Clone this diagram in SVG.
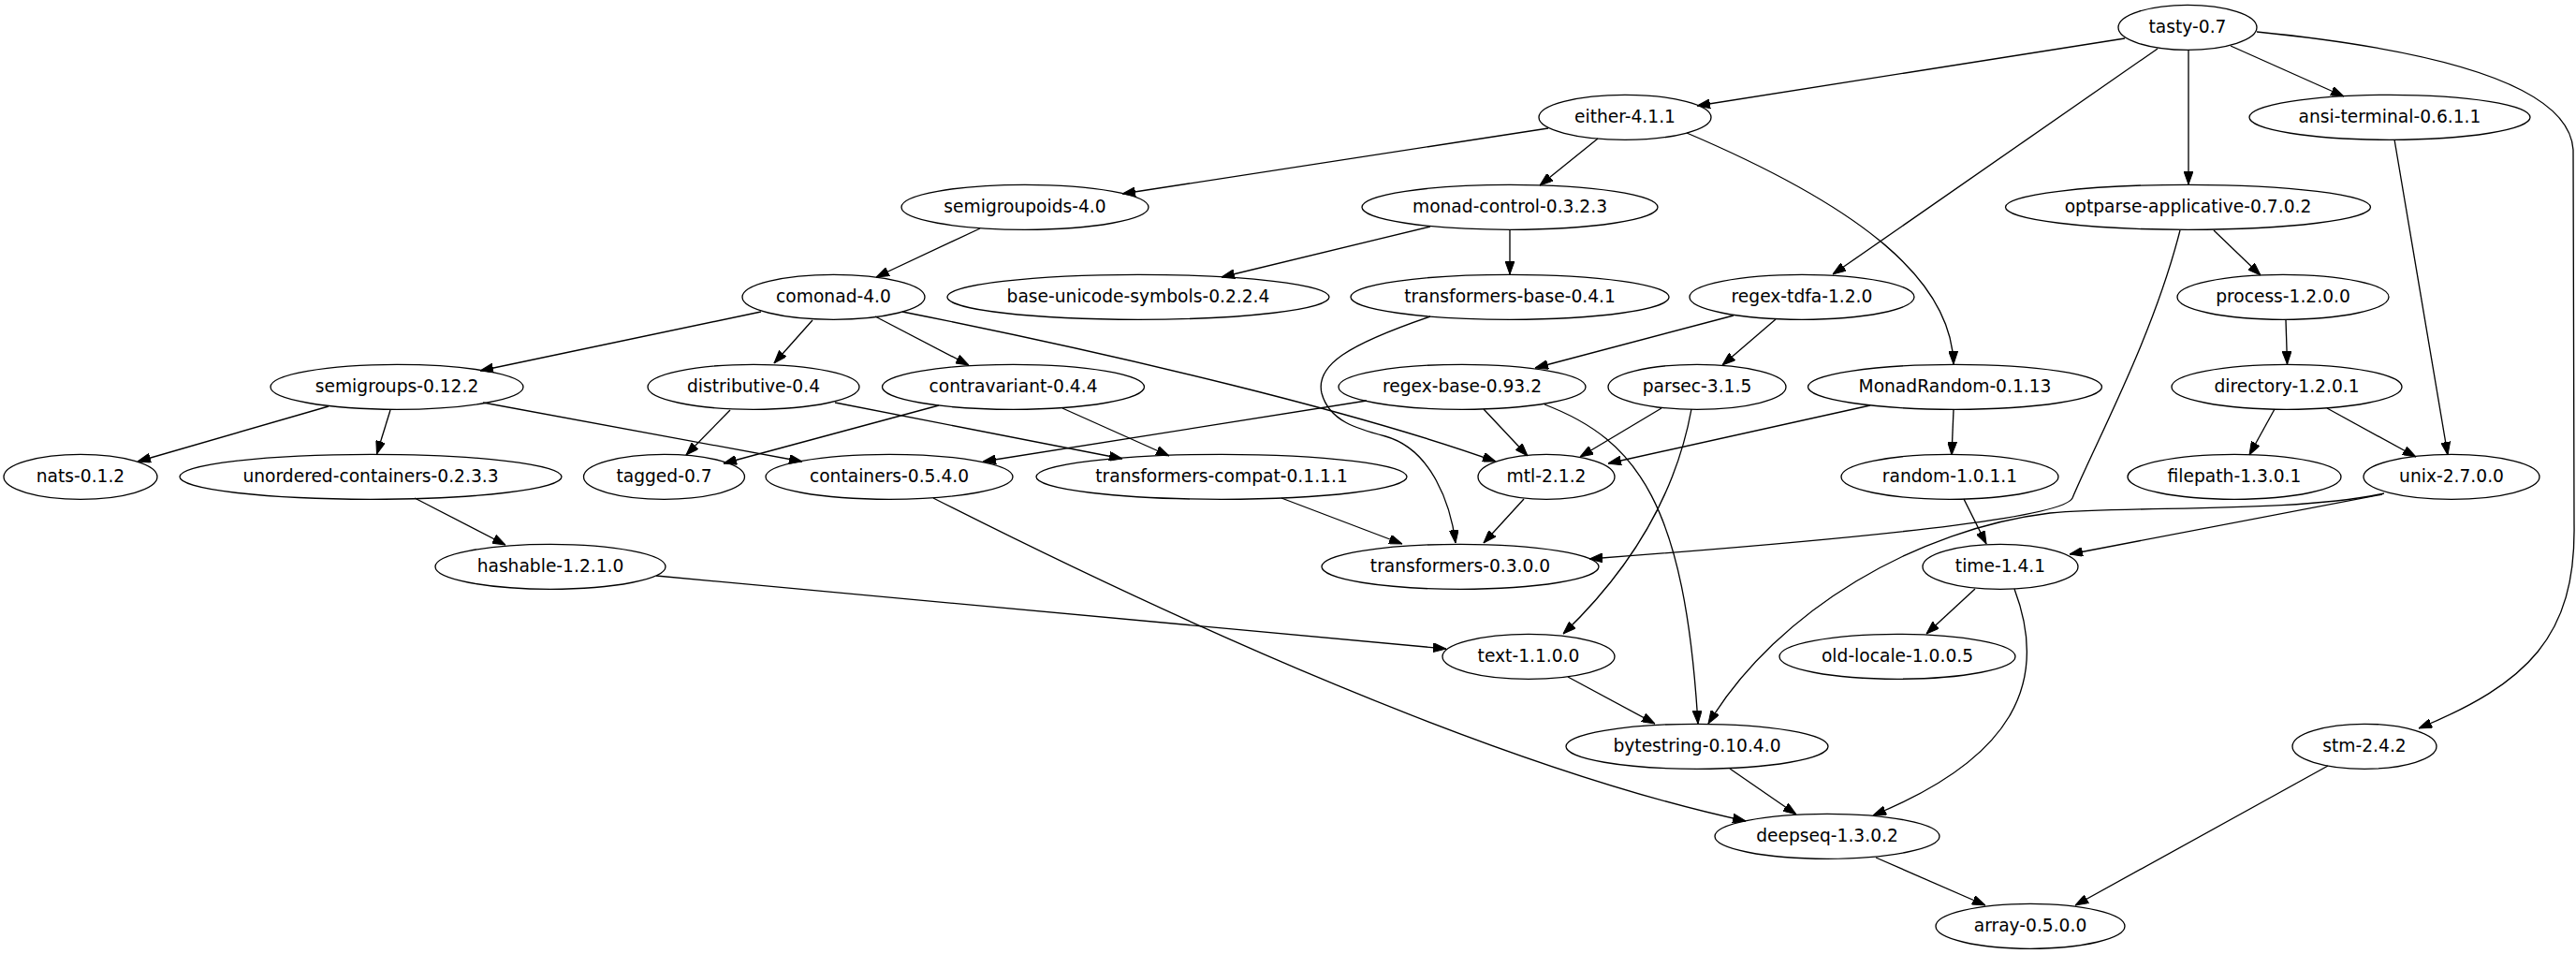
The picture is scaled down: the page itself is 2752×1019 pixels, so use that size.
<svg xmlns="http://www.w3.org/2000/svg" width="2752" height="1019" viewBox="0 0 2752 1019">
<style>
.n ellipse{fill:none;stroke:#000;stroke-width:1.33}
.n text{font-family:"DejaVu Sans","Liberation Sans",sans-serif;font-size:18.67px;text-anchor:middle;fill:#000}
#edges path{fill:none;stroke:#000;stroke-width:1.33;marker-end:url(#ah)}
</style>
<defs>
<marker id="ah" markerUnits="userSpaceOnUse" markerWidth="14" markerHeight="10" viewBox="0 0 14 10" refX="14" refY="5" orient="auto">
<path d="M0,0 L14,5 L0,10 z" fill="#000" stroke="#000" stroke-width="1"/>
</marker>
</defs>
<rect width="2752" height="1019" fill="#fff"/>
<g id="edges">
<path d="M2270,41 L1813,113"/>
<path d="M2305,52 L1958,293"/>
<path d="M2338,53 L2338,197"/>
<path d="M2383,49 L2504,103"/>
<path d="M2411,34 C2620,55 2745,95 2749,160 L2750,560 C2752,680 2700,730 2584,778"/>
<path d="M1654,137 L1199,207"/>
<path d="M1707,148 L1645,198"/>
<path d="M1802,142 C1990,222 2085,300 2087,389"/>
<path d="M2558,149 L2615,486"/>
<path d="M1047,244 L936,296"/>
<path d="M1528,242 L1305,296"/>
<path d="M1613,246 L1613,293"/>
<path d="M2365,246 L2415,294"/>
<path d="M2329,246 C2300,360 2240,470 2214,532 C2205,550 2060,570 1698,597"/>
<path d="M813,333 L513,396"/>
<path d="M868,342 L827,388"/>
<path d="M935,338 L1035,390"/>
<path d="M964,333 C1200,380 1450,440 1598,493"/>
<path d="M1528,338 C1440,368 1405,390 1412,420 C1420,450 1450,458 1480,466 C1530,480 1550,540 1555,580"/>
<path d="M1852,337 L1640,393"/>
<path d="M1897,341 L1840,390"/>
<path d="M2442,342 L2443.5,389"/>
<path d="M351,434 L147,493"/>
<path d="M417,438 L402.5,485"/>
<path d="M516,430 L857,493"/>
<path d="M780,438 L733,486"/>
<path d="M892,430 L1199,490"/>
<path d="M1003,433 L773,495"/>
<path d="M1135,436 L1249,487"/>
<path d="M1460,428 L1050,493"/>
<path d="M1585,437 L1632,487"/>
<path d="M1650,432 C1750,470 1800,540 1814,773"/>
<path d="M1775,436 L1688,488"/>
<path d="M1807,437 C1790,530 1740,610 1670,677"/>
<path d="M1998,433 L1718,495"/>
<path d="M2087,438 L2085,486"/>
<path d="M2430,437 L2403,486"/>
<path d="M2486,436 L2581,488"/>
<path d="M443,532 L540,582"/>
<path d="M997,532 C1250,660 1600,820 1865,877"/>
<path d="M1369,532 L1498,581"/>
<path d="M1628,533 L1585,580"/>
<path d="M2098,533 L2122,581"/>
<path d="M2545,528 L2211,592"/>
<path d="M2547,527 C2450,548 2280,540 2190,548 C2050,565 1900,650 1825,773"/>
<path d="M701,615 L1545,693"/>
<path d="M2110,629 L2058,677"/>
<path d="M2152,629 C2190,730 2150,810 2001,871"/>
<path d="M1675,723 L1768,773"/>
<path d="M1848,821 L1919,870"/>
<path d="M2487,818 L2217,967"/>
<path d="M2004,916 L2121,967"/>
</g>
<g id="tasty" class="n"><ellipse cx="2337" cy="29.3" rx="74" ry="24"/><text x="2337" y="35.3">tasty-0.7</text></g>
<g id="either" class="n"><ellipse cx="1736" cy="125.3" rx="92" ry="24"/><text x="1736" y="131.3">either-4.1.1</text></g>
<g id="ansi-terminal" class="n"><ellipse cx="2553" cy="125.3" rx="150" ry="24"/><text x="2553" y="131.3">ansi-terminal-0.6.1.1</text></g>
<g id="semigroupoids" class="n"><ellipse cx="1095" cy="221.3" rx="132" ry="24"/><text x="1095" y="227.3">semigroupoids-4.0</text></g>
<g id="monad-control" class="n"><ellipse cx="1613" cy="221.3" rx="158" ry="24"/><text x="1613" y="227.3">monad-control-0.3.2.3</text></g>
<g id="optparse-applicative" class="n"><ellipse cx="2337.5" cy="221.3" rx="195" ry="24"/><text x="2337.5" y="227.3">optparse-applicative-0.7.0.2</text></g>
<g id="comonad" class="n"><ellipse cx="890.5" cy="317.3" rx="97.5" ry="24"/><text x="890.5" y="323.3">comonad-4.0</text></g>
<g id="base-unicode-symbols" class="n"><ellipse cx="1216" cy="317.3" rx="204" ry="24"/><text x="1216" y="323.3">base-unicode-symbols-0.2.2.4</text></g>
<g id="transformers-base" class="n"><ellipse cx="1613" cy="317.3" rx="170" ry="24"/><text x="1613" y="323.3">transformers-base-0.4.1</text></g>
<g id="regex-tdfa" class="n"><ellipse cx="1925" cy="317.3" rx="120" ry="24"/><text x="1925" y="323.3">regex-tdfa-1.2.0</text></g>
<g id="process" class="n"><ellipse cx="2439" cy="317.3" rx="113" ry="24"/><text x="2439" y="323.3">process-1.2.0.0</text></g>
<g id="semigroups" class="n"><ellipse cx="424" cy="413.3" rx="135" ry="24"/><text x="424" y="419.3">semigroups-0.12.2</text></g>
<g id="distributive" class="n"><ellipse cx="805" cy="413.3" rx="113" ry="24"/><text x="805" y="419.3">distributive-0.4</text></g>
<g id="contravariant" class="n"><ellipse cx="1082.5" cy="413.3" rx="140" ry="24"/><text x="1082.5" y="419.3">contravariant-0.4.4</text></g>
<g id="regex-base" class="n"><ellipse cx="1562" cy="413.3" rx="132" ry="24"/><text x="1562" y="419.3">regex-base-0.93.2</text></g>
<g id="parsec" class="n"><ellipse cx="1813" cy="413.3" rx="95" ry="24"/><text x="1813" y="419.3">parsec-3.1.5</text></g>
<g id="MonadRandom" class="n"><ellipse cx="2088.5" cy="413.3" rx="157" ry="24"/><text x="2088.5" y="419.3">MonadRandom-0.1.13</text></g>
<g id="directory" class="n"><ellipse cx="2443" cy="413.3" rx="123" ry="24"/><text x="2443" y="419.3">directory-1.2.0.1</text></g>
<g id="nats" class="n"><ellipse cx="86" cy="509.3" rx="82" ry="24"/><text x="86" y="515.3">nats-0.1.2</text></g>
<g id="unordered-containers" class="n"><ellipse cx="396" cy="509.3" rx="204" ry="24"/><text x="396" y="515.3">unordered-containers-0.2.3.3</text></g>
<g id="tagged" class="n"><ellipse cx="709.5" cy="509.3" rx="86" ry="24"/><text x="709.5" y="515.3">tagged-0.7</text></g>
<g id="containers" class="n"><ellipse cx="950" cy="509.3" rx="132" ry="24"/><text x="950" y="515.3">containers-0.5.4.0</text></g>
<g id="transformers-compat" class="n"><ellipse cx="1305" cy="509.3" rx="198" ry="24"/><text x="1305" y="515.3">transformers-compat-0.1.1.1</text></g>
<g id="mtl" class="n"><ellipse cx="1652" cy="509.3" rx="73" ry="24"/><text x="1652" y="515.3">mtl-2.1.2</text></g>
<g id="random" class="n"><ellipse cx="2083" cy="509.3" rx="116" ry="24"/><text x="2083" y="515.3">random-1.0.1.1</text></g>
<g id="filepath" class="n"><ellipse cx="2387" cy="509.3" rx="114" ry="24"/><text x="2387" y="515.3">filepath-1.3.0.1</text></g>
<g id="unix" class="n"><ellipse cx="2619" cy="509.3" rx="94" ry="24"/><text x="2619" y="515.3">unix-2.7.0.0</text></g>
<g id="hashable" class="n"><ellipse cx="588" cy="605.3" rx="123" ry="24"/><text x="588" y="611.3">hashable-1.2.1.0</text></g>
<g id="transformers" class="n"><ellipse cx="1560" cy="605.3" rx="148" ry="24"/><text x="1560" y="611.3">transformers-0.3.0.0</text></g>
<g id="time" class="n"><ellipse cx="2137" cy="605.3" rx="83" ry="24"/><text x="2137" y="611.3">time-1.4.1</text></g>
<g id="text" class="n"><ellipse cx="1633" cy="701.3" rx="92" ry="24"/><text x="1633" y="707.3">text-1.1.0.0</text></g>
<g id="old-locale" class="n"><ellipse cx="2027" cy="701.3" rx="126" ry="24"/><text x="2027" y="707.3">old-locale-1.0.0.5</text></g>
<g id="bytestring" class="n"><ellipse cx="1813" cy="797.3" rx="140" ry="24"/><text x="1813" y="803.3">bytestring-0.10.4.0</text></g>
<g id="stm" class="n"><ellipse cx="2526" cy="797.3" rx="77" ry="24"/><text x="2526" y="803.3">stm-2.4.2</text></g>
<g id="deepseq" class="n"><ellipse cx="1952" cy="893.3" rx="120" ry="24"/><text x="1952" y="899.3">deepseq-1.3.0.2</text></g>
<g id="array" class="n"><ellipse cx="2169" cy="989.3" rx="101" ry="24"/><text x="2169" y="995.3">array-0.5.0.0</text></g>
</svg>
